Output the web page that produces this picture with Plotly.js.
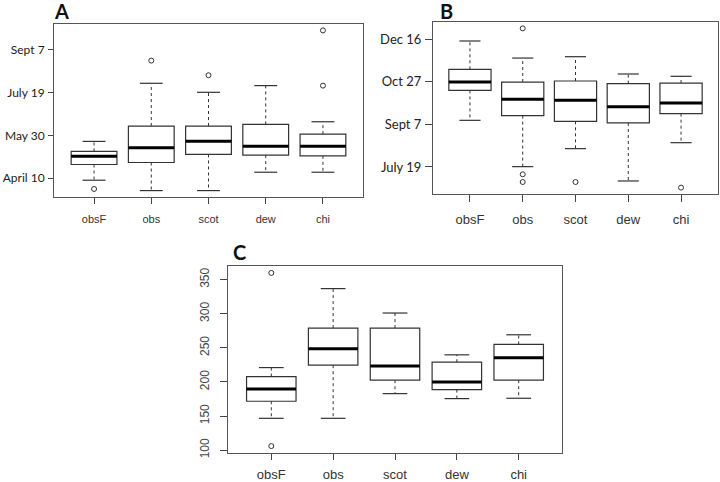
<!DOCTYPE html>
<html>
<head>
<meta charset="utf-8">
<script src="https://cdn.plot.ly/plotly-3.0.1.min.js"></script>
<style>html,body{margin:0;padding:0;background:#fff}#chart{width:720px;height:482px}</style>
</head>
<body>
<div id="chart"></div>
<script>
// ---- data ----
const categories = ['obsF', 'obs', 'scot', 'dew', 'chi'];
const categoryPos = [0, 1, 2, 3, 4];

// Panel A: spring dates (day of year)
const aLower  = [97.7, 85.6, 85.6, 107.0, 107.0];
const aQ1     = [116.0, 118.3, 127.7, 126.9, 126.1];
const aMedian = [125.7, 135.4, 143.2, 137.4, 137.4];
const aQ3     = [131.2, 160.8, 160.8, 162.7, 151.4];
const aUpper  = [142.9, 210.6, 200.1, 207.9, 165.8];
const aOutliers = [[87.5], [237.0], [220.0], [], [272.2, 207.9]];
const aTickVals = [100, 150, 200, 250];
const aTickText = ['April 10', 'May 30', 'July 19', 'Sept 7'];

// Panel B: autumn dates (day of year)
const bLower  = [254.7, 200.4, 221.5, 183.6, 228.5];
const bQ1     = [289.8, 260.2, 253.5, 251.6, 262.5];
const bMedian = [299.6, 279.3, 278.1, 270.7, 275.0];
const bQ3     = [314.5, 299.6, 300.8, 297.7, 298.4];
const bUpper  = [347.7, 327.7, 329.3, 309.0, 306.3];
const bOutliers = [[], [362.5, 191.4, 182.4], [182.4], [], [175.8]];
const bTickVals = [200, 250, 300, 350];
const bTickText = ['July 19', 'Sept 7', 'Oct 27', 'Dec 16'];

// Panel C: season length (days)
const cLower  = [146.6, 146.6, 182.8, 175.5, 176.0];
const cQ1     = [171.6, 224.5, 202.5, 188.7, 202.5];
const cMedian = [189.7, 248.5, 223.5, 200.0, 235.3];
const cQ3     = [207.8, 278.9, 278.9, 228.9, 254.9];
const cUpper  = [221.0, 336.8, 301.0, 239.7, 269.1];
const cOutliers = [[359.8, 105.9], [], [], [], []];
const cTickVals = [100, 150, 200, 250, 300, 350];
const cTickText = ['100', '150', '200', '250', '300', '350'];

// ---- build ----
const BOX_HALF = 0.4, CAP_HALF = 0.2;
const LINE_COL = '#333';

function panelTraces(xa, ya, lower, q1, med, q3, upper, outliers) {
  const traces = [];
  traces.push({
    type: 'box', xaxis: xa, yaxis: ya, x: categoryPos,
    q1: q1, median: med, q3: q3, lowerfence: q1, upperfence: q3,
    width: 2 * BOX_HALF, whiskerwidth: 0, boxpoints: false,
    line: {color: LINE_COL, width: 1.2}, fillcolor: 'rgba(0,0,0,0)',
    showlegend: false, hoverinfo: 'skip'
  });
  const wx = [], wy = [], cx = [], cy = [], mx = [], my = [], ox = [], oy = [];
  categoryPos.forEach((p, i) => {
    wx.push(p, p, null, p, p, null);
    wy.push(q3[i], upper[i], null, q1[i], lower[i], null);
    cx.push(p - CAP_HALF, p + CAP_HALF, null, p - CAP_HALF, p + CAP_HALF, null);
    cy.push(upper[i], upper[i], null, lower[i], lower[i], null);
    mx.push(p - BOX_HALF, p + BOX_HALF, null);
    my.push(med[i], med[i], null);
    outliers[i].forEach(v => { ox.push(p); oy.push(v); });
  });
  traces.push({type: 'scatter', mode: 'lines', xaxis: xa, yaxis: ya, x: wx, y: wy,
    line: {color: LINE_COL, width: 1, dash: '3px,3px'}, showlegend: false, hoverinfo: 'skip'});
  traces.push({type: 'scatter', mode: 'lines', xaxis: xa, yaxis: ya, x: cx, y: cy,
    line: {color: LINE_COL, width: 1.2}, showlegend: false, hoverinfo: 'skip'});
  traces.push({type: 'scatter', mode: 'lines', xaxis: xa, yaxis: ya, x: mx, y: my,
    line: {color: '#000', width: 3}, showlegend: false, hoverinfo: 'skip'});
  traces.push({type: 'scatter', mode: 'markers', xaxis: xa, yaxis: ya, x: ox, y: oy,
    marker: {symbol: 'circle-open', size: 5, color: LINE_COL, line: {width: 1}},
    showlegend: false, hoverinfo: 'skip'});
  return traces;
}

function yRange(lower, upper, outliers) {
  const all = lower.concat(upper, ...outliers);
  const lo = Math.min(...all), hi = Math.max(...all);
  const pad = 0.04 * (hi - lo);
  return [lo - pad, hi + pad];
}

const data = [].concat(
  panelTraces('x', 'y', aLower, aQ1, aMedian, aQ3, aUpper, aOutliers),
  panelTraces('x2', 'y2', bLower, bQ1, bMedian, bQ3, bUpper, bOutliers),
  panelTraces('x3', 'y3', cLower, cQ1, cMedian, cQ3, cUpper, cOutliers)
);

const W = 720, H = 482;
function xd(a, b) { return [a / W, b / W]; }
function yd(top, bottom) { return [1 - bottom / H, 1 - top / H]; }

function xAxis(domain, anchor, size, len, standoff) {
  return {
    domain: domain, anchor: anchor, range: [-0.7, 4.7],
    tickmode: 'array', tickvals: categoryPos, ticktext: categories,
    ticks: 'outside', ticklen: len, tickcolor: '#444', tickwidth: 1,
    showline: true, mirror: true, linecolor: '#555', linewidth: 1,
    showgrid: false, zeroline: false, ticklabelstandoff: standoff,
    tickfont: {family: 'Liberation Sans, Arial, sans-serif', size: size, color: '#333'}
  };
}
function yAxis(domain, anchor, range, vals, text, font, len, angle, standoff) {
  return {
    domain: domain, anchor: anchor, range: range,
    tickmode: 'array', tickvals: vals, ticktext: text,
    ticks: 'outside', ticklen: len, tickcolor: '#444', tickwidth: 1,
    showline: true, mirror: true, linecolor: '#555', linewidth: 1,
    showgrid: false, zeroline: false, tickangle: angle, ticklabelstandoff: standoff,
    tickfont: font
  };
}
const calibriLikeA = {family: 'Lato, sans-serif', size: 12, color: '#222'};
const calibriLikeB = {family: 'Lato, sans-serif', size: 13, color: '#222'};
const arialGray = {family: 'Liberation Sans, Arial, sans-serif', size: 12, color: '#444'};

const layout = {
  width: W, height: H,
  margin: {l: 0, r: 0, t: 0, b: 0},
  paper_bgcolor: '#fff', plot_bgcolor: '#fff',
  showlegend: false,
  xaxis:  xAxis(xd(54, 363), 'y', 11, 6, 6),
  yaxis:  yAxis(yd(24, 197), 'x', yRange(aLower, aUpper, aOutliers), aTickVals, aTickText, calibriLikeA, 5, 0, 1),
  xaxis2: xAxis(xd(433, 718), 'y2', 13, 7, 6),
  yaxis2: yAxis(yd(22, 194), 'x2', yRange(bLower, bUpper, bOutliers), bTickVals, bTickText, calibriLikeB, 7, 0, 1),
  xaxis3: xAxis(xd(228, 562), 'y3', 13, 6, 3),
  yaxis3: yAxis(yd(266, 453), 'x3', yRange(cLower, cUpper, cOutliers), cTickVals, cTickText, arialGray, 7, -90, 6),
  annotations: [
    {text: 'A', xref: 'paper', yref: 'paper', x: 52 / W, y: 1 - 11 / H, xanchor: 'left', yanchor: 'middle',
     showarrow: false, font: {family: 'Lato, sans-serif', size: 20, weight: 'bold', color: '#111'}},
    {text: 'B', xref: 'paper', yref: 'paper', x: 438 / W, y: 1 - 11 / H, xanchor: 'left', yanchor: 'middle',
     showarrow: false, font: {family: 'Lato, sans-serif', size: 20, weight: 'bold', color: '#111'}},
    {text: 'C', xref: 'paper', yref: 'paper', x: 231 / W, y: 1 - 252 / H, xanchor: 'left', yanchor: 'middle',
     showarrow: false, font: {family: 'Lato, sans-serif', size: 20, weight: 'bold', color: '#111'}}
  ]
};

Plotly.newPlot('chart', data, layout, {staticPlot: true, displayModeBar: false});
</script>
</body>
</html>
